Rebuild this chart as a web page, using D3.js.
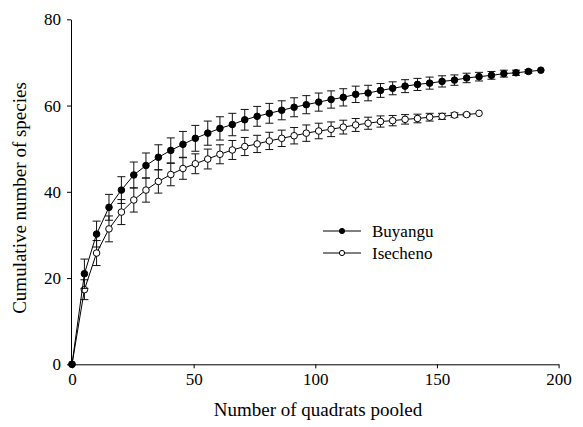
<!DOCTYPE html>
<html>
<head>
<meta charset="utf-8">
<script src="https://cdn.jsdelivr.net/npm/d3@7"></script>
<style>
  body { margin: 0; background: #fff; }
  svg { display: block; }
</style>
</head>
<body>
<div id="chart"></div>
<script>
// quadrats pooled (x) for each point
const quadrats = [0, 5.1, 10.1, 15.2, 20.3, 25.4, 30.4, 35.5, 40.6, 45.6, 50.7, 55.8, 60.8,
  65.9, 71.0, 76.1, 81.1, 86.2, 91.3, 96.3, 101.4, 106.5, 111.5, 116.6, 121.7, 126.8,
  131.8, 136.9, 142.0, 147.0, 152.1, 157.2, 162.2, 167.3, 172.4, 177.5, 182.5, 187.6, 192.7];

const buyangu = [0, 21.0, 30.2, 36.4, 40.4, 43.9, 46.1, 48.0, 49.6, 51.0, 52.4, 53.6, 54.7,
  55.6, 56.7, 57.5, 58.2, 58.9, 59.6, 60.2, 60.8, 61.4, 61.9, 62.6, 62.9, 63.5,
  64.0, 64.5, 64.9, 65.2, 65.6, 65.9, 66.4, 66.7, 67.0, 67.4, 67.6, 67.9, 68.2];
const buyanguErr = [0, 3.4, 3.0, 3.0, 3.1, 3.0, 2.9, 2.9, 2.9, 3.0, 3.0, 2.8, 2.7,
  2.6, 2.4, 2.3, 2.3, 2.2, 2.2, 2.1, 2.1, 2.0, 2.0, 1.9, 1.8, 1.6,
  1.5, 1.5, 1.4, 1.4, 1.3, 1.2, 1.1, 1.0, 0.9, 0.8, 0.6, 0.4, 0];

const isecheno = [0, 17.3, 25.8, 31.4, 35.3, 38.1, 40.4, 42.4, 44.0, 45.4, 46.5, 47.6, 48.7,
  49.7, 50.5, 51.1, 51.8, 52.4, 53.0, 53.6, 54.1, 54.5, 55.0, 55.5, 55.9, 56.3,
  56.5, 56.8, 57.0, 57.3, 57.5, 57.8, 57.9, 58.2];
const isechenoErr = [0, 2.3, 2.9, 3.0, 2.9, 2.8, 2.8, 2.7, 2.6, 2.5, 2.3, 2.3, 2.2,
  2.2, 2.1, 2.0, 2.0, 1.9, 1.9, 1.9, 1.8, 1.7, 1.6, 1.5, 1.4, 1.3,
  1.2, 1.1, 1.0, 0.9, 0.7, 0.5, 0.3, 0];

const xTicks = [0, 50, 100, 150, 200];
const yTicks = [0, 20, 40, 60, 80];

const W = 583, H = 427;
const FONT = '"Liberation Serif", "Times New Roman", serif';

const svg = d3.select('#chart')
  .append('svg')
  .attr('width', W)
  .attr('height', H)
  .attr('font-family', FONT);

const x = d3.scaleLinear().domain([0, 200]).range([72, 558.6]);
const y = d3.scaleLinear().domain([0, 80]).range([364.3, 19.3]);

// axes
const xAxis = svg.append('g')
  .attr('transform', `translate(0,${y(0)})`)
  .call(d3.axisBottom(x).tickValues(xTicks).tickSize(4).tickPadding(5).tickSizeOuter(0));
const yAxis = svg.append('g')
  .attr('transform', `translate(${x(0) - 1},0)`)
  .call(d3.axisLeft(y).tickValues(yTicks).tickSize(4).tickPadding(6).tickSizeOuter(0));

[xAxis, yAxis].forEach(a => {
  a.select('.domain').attr('stroke', '#000').attr('stroke-width', 1);
  a.selectAll('.tick line').attr('stroke', '#000');
  a.selectAll('.tick text')
    .attr('font-family', FONT)
    .attr('font-size', 17)
    .attr('fill', '#000');
});

svg.append('text')
  .attr('x', 318)
  .attr('y', 416)
  .attr('text-anchor', 'middle')
  .attr('font-size', 19)
  .text('Number of quadrats pooled');

svg.append('text')
  .attr('transform', `translate(26,${198}) rotate(-90)`)
  .attr('text-anchor', 'middle')
  .attr('font-size', 19)
  .text('Cumulative number of species');

function drawSeries(vals, errs, fill) {
  const pts = vals.map((v, i) => ({ x: quadrats[i], y: v, e: errs[i] }));
  const g = svg.append('g');
  const CAP = 4;

  const bars = g.append('g')
    .attr('stroke', '#111')
    .attr('stroke-width', 1)
    .selectAll('g')
    .data(pts.filter(d => d.e > 0))
    .join('g');
  bars.append('line')
    .attr('x1', d => x(d.x)).attr('x2', d => x(d.x))
    .attr('y1', d => y(d.y - d.e)).attr('y2', d => y(d.y + d.e));
  bars.append('line')
    .attr('x1', d => x(d.x) - CAP).attr('x2', d => x(d.x) + CAP)
    .attr('y1', d => y(d.y + d.e)).attr('y2', d => y(d.y + d.e));
  bars.append('line')
    .attr('x1', d => x(d.x) - CAP).attr('x2', d => x(d.x) + CAP)
    .attr('y1', d => y(d.y - d.e)).attr('y2', d => y(d.y - d.e));

  g.append('path')
    .datum(pts)
    .attr('fill', 'none')
    .attr('stroke', '#000')
    .attr('stroke-width', 1)
    .attr('d', d3.line().x(d => x(d.x)).y(d => y(d.y)));

  g.append('g')
    .selectAll('circle')
    .data(pts)
    .join('circle')
    .attr('cx', d => x(d.x))
    .attr('cy', d => y(d.y))
    .attr('r', 3.3)
    .attr('fill', fill)
    .attr('stroke', '#000')
    .attr('stroke-width', 1);
}

drawSeries(isecheno, isechenoErr, '#fff');
drawSeries(buyangu, buyanguErr, '#000');

// legend
const legend = svg.append('g').attr('font-size', 17);
[['Buyangu', '#000', 231], ['Isecheno', '#fff', 253]].forEach(([name, fill, ly]) => {
  legend.append('line')
    .attr('x1', 323).attr('x2', 361)
    .attr('y1', ly).attr('y2', ly)
    .attr('stroke', '#000');
  legend.append('circle')
    .attr('cx', 342).attr('cy', ly).attr('r', 2.6)
    .attr('fill', fill).attr('stroke', '#000');
  legend.append('text')
    .attr('x', 372).attr('y', ly).attr('dy', '0.33em')
    .text(name);
});
</script>
</body>
</html>
